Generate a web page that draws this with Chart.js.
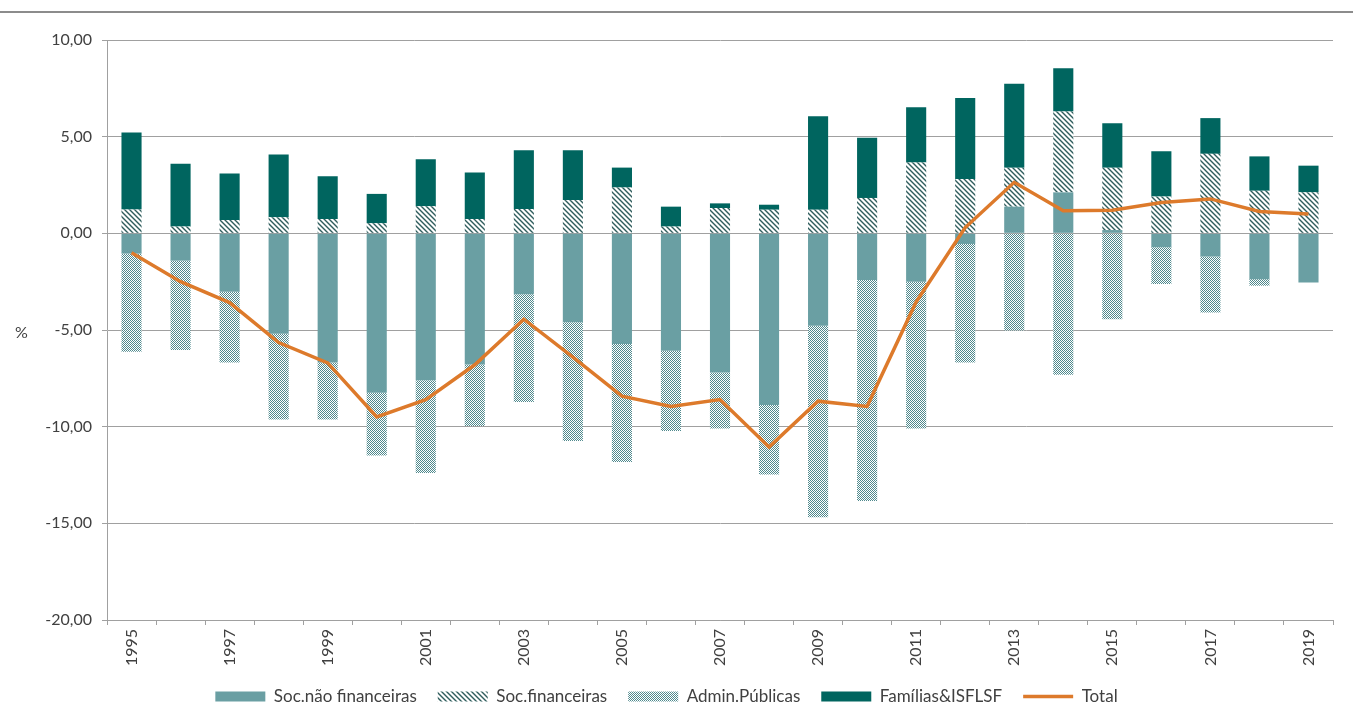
<!DOCTYPE html>
<html>
<head>
<meta charset="utf-8">
<script src="https://cdn.jsdelivr.net/npm/chart.js@4.4.1/dist/chart.umd.min.js"></script>
<style>
  html, body { margin: 0; padding: 0; background: #fff; }
  #wrap { position: relative; width: 1353px; height: 724px; }
  #topline { position: absolute; left: 0; top: 11px; width: 1353px; height: 2px; background: #8c8c8c; }
  #pct { position: absolute; left: 15px; top: 322px; font: 16px Lato, sans-serif; color: #404040; }
</style>
</head>
<body>
<div id="wrap">
  <div id="topline"></div>
  <div id="pct">%</div>
  <canvas id="chart"></canvas>
</div>
<script>
// ── DATA ──────────────────────────────────────────────────────────
const years = [
  "1995","1996","1997","1998","1999","2000","2001","2002","2003","2004",
  "2005","2006","2007","2008","2009","2010","2011","2012","2013","2014",
  "2015","2016","2017","2018","2019"
];

const socNaoFin = [-1.05,-1.41,-3.02,-5.20,-6.68,-8.24,-7.60,-6.78,-3.15,-4.60,
                   -5.72,-6.07,-7.20,-8.88,-4.78,-2.42,-2.50,-0.55, 1.38, 2.12,
                    0.17,-0.72,-1.20,-2.37,-2.54];
const socFin    = [ 1.23, 0.35, 0.69, 0.83, 0.74, 0.52, 1.40, 0.74, 1.26, 1.72,
                    2.37, 0.35, 1.31, 1.22, 1.22, 1.83, 3.67, 2.81, 2.01, 4.18,
                    3.22, 1.90, 4.11, 2.20, 2.12];
const adminPub  = [-5.08,-4.62,-3.66,-4.43,-2.95,-3.25,-4.80,-3.19,-5.57,-6.14,
                   -6.11,-4.16,-2.90,-3.59,-9.90,-11.43,-7.60,-6.13,-5.03,-7.32,
                   -4.45,-1.90,-2.90,-0.34, 0.00];
const familias  = [ 3.99, 3.25, 2.41, 3.25, 2.21, 1.52, 2.43, 2.41, 3.04, 2.58,
                    1.03, 1.03, 0.24, 0.26, 4.83, 3.11, 2.85, 4.19, 4.35, 2.24,
                    2.30, 2.35, 1.85, 1.78, 1.38];
const total     = [-1.00,-2.50,-3.58,-5.65,-6.70,-9.50,-8.60,-6.80,-4.44,-6.40,
                   -8.42,-8.95,-8.60,-11.05,-8.68,-8.95,-3.55, 0.30, 2.64, 1.17,
                    1.20, 1.60, 1.78, 1.13, 1.00];

// ── COLOURS & PATTERNS ────────────────────────────────────────────
const TEAL      = "#6a9fa3";
const DARK_TEAL = "#00655f";
const ORANGE    = "#dd7a2b";
const GRID      = "#a0a0a0";
const TEXT      = "#404040";

// wide downward diagonal (Soc.financeiras)
function hatchPattern() {
  const c = document.createElement("canvas");
  c.width = 5; c.height = 5;
  const g = c.getContext("2d");
  g.fillStyle = "#fff";
  g.fillRect(0, 0, 5, 5);
  g.strokeStyle = "#2f5d5d";
  g.lineWidth = 1.4;
  g.beginPath();
  g.moveTo(-1, -1); g.lineTo(6, 6);
  g.moveTo(-1, 4);  g.lineTo(1, 6);
  g.moveTo(4, -1);  g.lineTo(6, 1);
  g.stroke();
  return g.createPattern(c, "repeat");
}

// small checker (Admin.Públicas)
function confettiPattern() {
  const c = document.createElement("canvas");
  c.width = 2; c.height = 2;
  const g = c.getContext("2d");
  g.fillStyle = "#fff";
  g.fillRect(0, 0, 2, 2);
  g.fillStyle = "#4f898d";
  g.fillRect(0, 0, 1, 1);
  g.fillRect(1, 1, 1, 1);
  return g.createPattern(c, "repeat");
}

const FONT = "Lato";

// ── CHART ─────────────────────────────────────────────────────────
const barCommon = {
  type: "bar",
  stack: "s",
  borderWidth: 0,
  categoryPercentage: 1,
  barPercentage: 0.41,
  pointStyle: "rect",
};

new Chart(document.getElementById("chart"), {
  data: {
    labels: years,
    datasets: [
      { ...barCommon, label: "Soc.não financeiras", data: socNaoFin, backgroundColor: TEAL },
      { ...barCommon, label: "Soc.financeiras",     data: socFin,    backgroundColor: hatchPattern() },
      { ...barCommon, label: "Admin.Públicas",      data: adminPub,  backgroundColor: confettiPattern() },
      { ...barCommon, label: "Famílias&ISFLSF",     data: familias,  backgroundColor: DARK_TEAL },
      {
        type: "line",
        label: "Total",
        data: total,
        borderColor: ORANGE,
        backgroundColor: ORANGE,
        borderWidth: 3.5,
        pointRadius: 0,
        pointStyle: "line",
        tension: 0,
        order: -1,
      },
    ]
  },
  options: {
    responsive: true,
    maintainAspectRatio: false,
    animation: false,
    layout: { padding: { left: 0, right: 20, top: 40, bottom: 9 } },
    plugins: {
      tooltip: { enabled: false },
      legend: {
        position: "bottom",
        labels: {
          usePointStyle: true,
          pointStyleWidth: 50,
          boxHeight: 10,
          padding: 21,
          color: TEXT,
          font: { family: FONT, size: 17 },
          sort: (a, b) => a.datasetIndex - b.datasetIndex,
        }
      }
    },
    scales: {
      x: {
        stacked: true,
        border: { color: GRID },
        grid: { drawOnChartArea: false, drawTicks: true, tickLength: 5, color: GRID, offset: true },
        ticks: {
          autoSkip: false,
          minRotation: 90,
          maxRotation: 90,
          padding: 4,
          color: TEXT,
          font: { family: FONT, size: 16 },
          callback: (v, i) => (i % 2 === 0 ? years[i] : ""),
        },
        afterFit: s => { s.height = 47; },
      },
      y: {
        stacked: true,
        min: -20,
        max: 10,
        border: { color: GRID },
        grid: { color: GRID, tickLength: 5 },
        ticks: {
          stepSize: 5,
          padding: 10,
          color: TEXT,
          font: { family: FONT, size: 16 },
          callback: v => v.toFixed(2).replace(".", ","),
        },
        afterFit: s => { s.width = 107; },
      }
    }
  }
});
</script>
</body>
</html>
